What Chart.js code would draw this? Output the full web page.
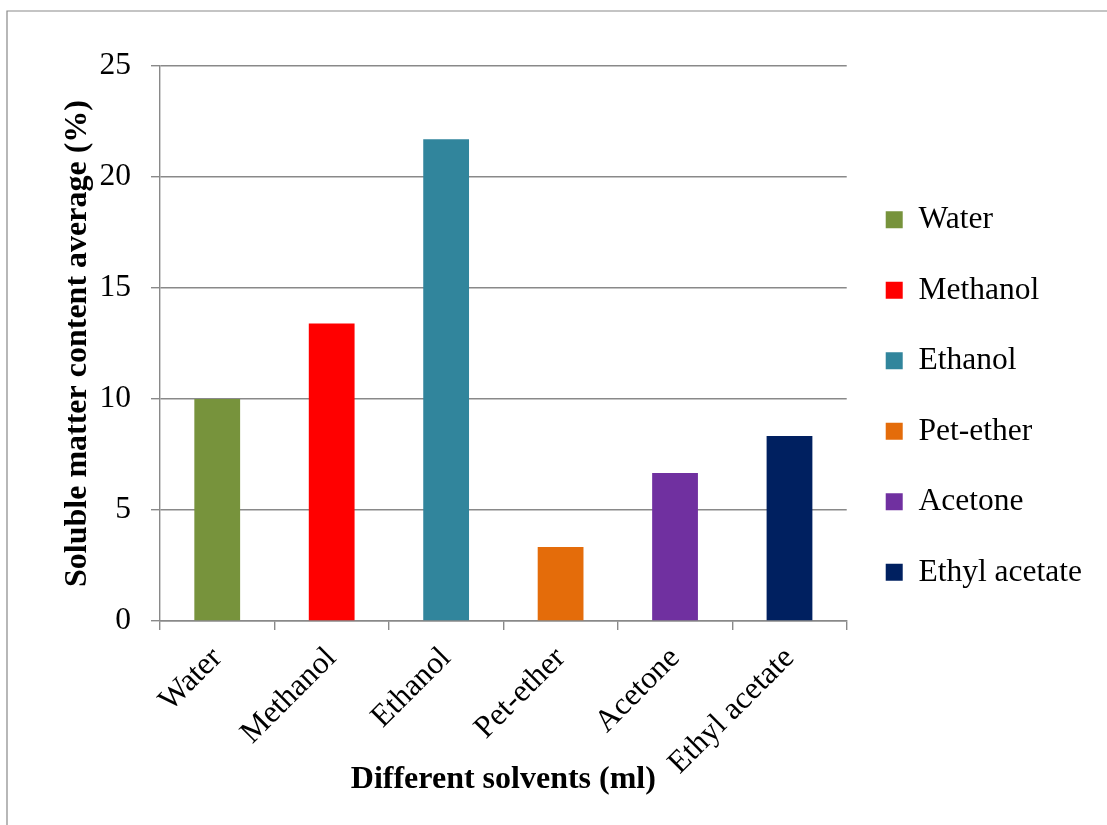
<!DOCTYPE html>
<html>
<head>
<meta charset="utf-8">
<title>Soluble matter content by solvent</title>
<script src="https://cdn.jsdelivr.net/npm/chart.js@4.4.1/dist/chart.umd.min.js"></script>
<style>
  html, body { margin: 0; padding: 0; background: #ffffff; }
  #wrap { width: 1107px; height: 825px; position: relative; }
</style>
</head>
<body>
<div id="wrap"><canvas id="chart" width="1107" height="825"></canvas></div>
<script>
// Solvents tested and the average soluble matter content extracted (%)
const solvents = ['Water', 'Methanol', 'Ethanol', 'Pet-ether', 'Acetone', 'Ethyl acetate'];
const solubleMatter = [10, 13.4, 21.7, 3.33, 6.67, 8.33];
const barColors = ['#77933C', '#FF0000', '#31859C', '#E46C0A', '#7030A0', '#002060'];
const yTickValues = [0, 5, 10, 15, 20, 25];

const SERIF = "'Liberation Serif', 'Times New Roman', serif";
const GRID = '#898989';

// Thin grey frame along the top and left of the figure
const framePlugin = {
  id: 'frame',
  beforeDraw(chart) {
    const ctx = chart.ctx;
    ctx.save();
    ctx.strokeStyle = GRID;
    ctx.lineWidth = 1.2;
    ctx.beginPath();
    ctx.moveTo(7, chart.height);
    ctx.lineTo(7, 11);
    ctx.lineTo(chart.width, 11);
    ctx.stroke();
    ctx.restore();
  }
};

// Nudge the right-hand legend column slightly downwards
const legendOffsetPlugin = {
  id: 'legendOffset',
  afterLayout(chart) {
    if (chart.legend) {
      chart.legend.top += 6;
      chart.legend.bottom += 6;
    }
  }
};

new Chart(document.getElementById('chart'), {
  type: 'bar',
  data: {
    labels: solvents,
    datasets: [{
      label: 'Soluble matter content average (%)',
      data: solubleMatter,
      backgroundColor: barColors,
      borderWidth: 0,
      barPercentage: 0.4,
      categoryPercentage: 1.0
    }]
  },
  options: {
    responsive: false,
    animation: false,
    devicePixelRatio: 1,
    layout: { padding: { left: 55, top: 66, right: 15, bottom: 26 } },
    plugins: {
      tooltip: { enabled: false },
      legend: {
        display: true,
        position: 'right',
        align: 'end',
        fullSize: false,
        onClick: null,
        labels: {
          boxWidth: 17,
          boxHeight: 17,
          padding: 39,
          color: '#000000',
          font: { family: SERIF, size: 31.5 },
          generateLabels() {
            return solvents.map((name, i) => ({
              text: name,
              fillStyle: barColors[i],
              strokeStyle: barColors[i],
              lineWidth: 0,
              hidden: false,
              index: i
            }));
          }
        }
      }
    },
    scales: {
      x: {
        offset: true,
        grid: {
          display: true,
          offset: true,
          drawOnChartArea: false,
          drawTicks: true,
          tickLength: 9,
          color: GRID,
          lineWidth: 1.4
        },
        border: { display: true, color: GRID, width: 1.4 },
        ticks: {
          autoSkip: false,
          minRotation: 45,
          maxRotation: 45,
          padding: 10,
          color: '#000000',
          font: { family: SERIF, size: 31.5 }
        },
        title: {
          display: true,
          text: 'Different solvents (ml)',
          color: '#000000',
          padding: 0,
          font: { family: SERIF, size: 32, weight: 'bold' }
        },
        afterFit(scale) { scale.height = 178; }
      },
      y: {
        min: yTickValues[0],
        max: yTickValues[yTickValues.length - 1],
        afterBuildTicks(scale) {
          scale.ticks = yTickValues.map(v => ({ value: v }));
        },
        afterFit(scale) { scale.width = 105; },
        grid: {
          display: true,
          drawTicks: true,
          tickLength: 9,
          color: GRID,
          lineWidth: 1.4
        },
        border: { display: true, color: GRID, width: 1.4 },
        ticks: {
          padding: 20,
          color: '#000000',
          font: { family: SERIF, size: 31.5 }
        },
        title: {
          display: true,
          text: 'Soluble matter content average (%)',
          color: '#000000',
          padding: { top: 4, bottom: 4 },
          font: { family: SERIF, size: 32, weight: 'bold' }
        }
      }
    }
  },
  plugins: [framePlugin, legendOffsetPlugin]
});
</script>
</body>
</html>
